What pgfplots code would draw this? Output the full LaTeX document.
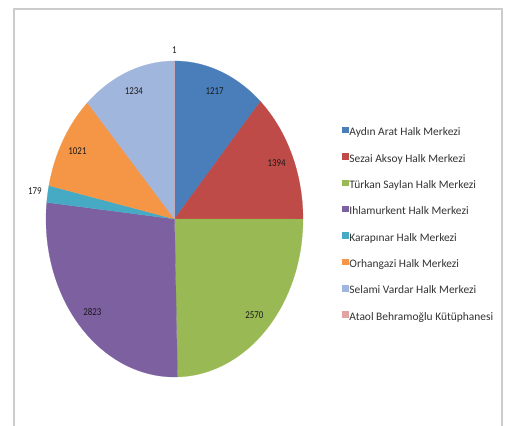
\documentclass[border=0pt]{standalone}
\usepackage{fontspec}
\setmainfont{Carlito}
\usepackage{graphicx}
\usepackage{pgfplots}
\pgfplotsset{compat=1.18}

\definecolor{cA}{HTML}{4A7EBB}
\definecolor{cB}{HTML}{BE4B48}
\definecolor{cC}{HTML}{98B954}
\definecolor{cD}{HTML}{7D60A0}
\definecolor{cE}{HTML}{46AAC5}
\definecolor{cF}{HTML}{F59647}
\definecolor{cG}{HTML}{A0B6DC}
\definecolor{cH}{HTML}{E0A5A3}

\tikzset{numlab/.style={font=\fontsize{10.5}{12}\selectfont, text=black!90, inner sep=0pt}}

\def\total{10439}
\def\cum{0}
\newcommand\pieslice[4]{% value, colour, label radius, legend text
  \pgfmathsetmacro\sa{90-360*(\cum/\total)}%
  \pgfmathsetmacro\newcum{\cum+#1}%
  \pgfmathsetmacro\ea{90-360*(\newcum/\total)}%
  \pgfmathsetmacro\ma{(\sa+\ea)/2}%
  \pgfmathsetmacro\lx{#3*cos(\ma)}%
  \pgfmathsetmacro\ly{#3*sin(\ma)}%
  \xdef\cum{\newcum}%
  \edef\temp{\noexpand\addplot[fill=#2, draw=#2, line width=0.2bp, domain=\ea:\sa, samples=100] ({cos(x)},{sin(x)}) -- (axis cs:0,0) -- cycle;
   \noexpand\addlegendentry{#4}
   \noexpand\node[numlab] at (axis cs:\lx,\ly) {\noexpand\scalebox{0.85}[1]{#1}};}%
  \temp
}

\begin{document}
\begin{tikzpicture}
\path[use as bounding box] (0,0) rectangle (505bp,426bp);
\fill[white] (0,0) rectangle (505bp,426bp);
\draw[black!20, line width=1.6bp] (14bp,-10bp) -- (14bp,417bp) -- (502bp,417bp) -- (502bp,-10bp);
\begin{axis}[
  scale only axis, width=257bp, height=316bp,
  xmin=-1, xmax=1, ymin=-1, ymax=1,
  hide axis, clip=false,
  at={(174.5bp,207bp)}, anchor=center,
  legend image code/.code={\fill[#1] (0bp,0.6bp) rectangle (5.5bp,6.1bp);},
  legend cell align=left,
  legend style={at={(1.152,0.792)}, anchor=north west, draw=none, fill=none,
    inner sep=0pt, font=\fontsize{11.5}{13}\selectfont, text=black!80,
    nodes={inner sep=0pt, text height=8bp, text depth=2.5bp},
    row sep=14.9bp, column sep=1.5bp},
]
\pieslice{1217}{cA}{0.87}{Aydın Arat Halk Merkezi}
\pieslice{1394}{cB}{0.87}{Sezai Aksoy Halk Merkezi}
\pieslice{2570}{cC}{0.87}{Türkan Saylan Halk Merkezi}
\pieslice{2823}{cD}{0.87}{Ihlamurkent Halk Merkezi}
\pieslice{179}{cE}{1.10}{Karapınar Halk Merkezi}
\pieslice{1021}{cF}{0.87}{Orhangazi Halk Merkezi}
\pieslice{1234}{cG}{0.87}{Selami Vardar Halk Merkezi}
\pieslice{1}{cH}{1.07}{Ataol Behramoğlu Kütüphanesi}
\end{axis}
\end{tikzpicture}
\end{document}
